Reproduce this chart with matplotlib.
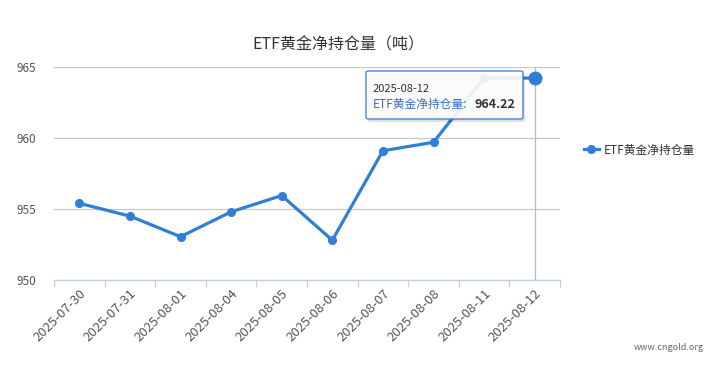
import matplotlib.pyplot as plt
from matplotlib.patches import FancyBboxPatch
from matplotlib.lines import Line2D

plt.rcParams['font.family'] = ['Noto Sans CJK SC', 'DejaVu Sans']

DATES = ["2025-07-30", "2025-07-31", "2025-08-01", "2025-08-04", "2025-08-05",
         "2025-08-06", "2025-08-07", "2025-08-08", "2025-08-11", "2025-08-12"]
HOLDINGS = [955.4, 954.5, 953.05, 954.8, 955.95, 952.8, 959.1, 959.7, 964.22, 964.22]
SERIES_NAME = "ETF黄金净持仓量"
TITLE = "ETF黄金净持仓量（吨）"
Y_TICKS = [950, 955, 960, 965]
HOVER_IDX = 9

W, H = 724, 367
BLUE = "#2f7ed8"

fig = plt.figure(figsize=(W / 100, H / 100), dpi=100)
ax = fig.add_axes([54 / W, (H - 280) / H, 506 / W, 213 / H])

x = list(range(len(DATES)))
ax.plot(x, HOLDINGS, color=BLUE, lw=2.3, marker="o", ms=5.5, zorder=3)
ax.plot([x[HOVER_IDX]], [HOLDINGS[HOVER_IDX]], marker="o", ms=9, color=BLUE, zorder=4)
ax.axvline(x[HOVER_IDX], color="#bbbbbb", lw=0.9, zorder=2)

ax.set_xlim(-0.5, len(DATES) - 0.5)
ax.set_ylim(950, 965)
ax.set_yticks(Y_TICKS)
ax.yaxis.grid(True, color="#c8c8c8", lw=0.9)
ax.set_axisbelow(True)
ax.tick_params(axis="y", length=0, labelsize=8.5, labelcolor="#555555", pad=13)

ax.set_xticks(x)
ax.set_xticklabels(DATES, rotation=45, ha="right", va="top", rotation_mode="anchor",
                   fontsize=9.5, color="#555555")
ax.set_xticks([i - 0.5 for i in range(len(DATES) + 1)], minor=True)
ax.tick_params(axis="x", which="major", length=0, pad=5)
ax.tick_params(axis="x", which="minor", length=5, color="#c0d0e0", width=0.9)

for s in ["top", "right", "left"]:
    ax.spines[s].set_visible(False)
ax.spines["bottom"].set_color("#c0d0e0")
ax.spines["bottom"].set_linewidth(1.0)

fig.text(338 / W, 1 - 45 / H, TITLE, ha="center", va="center", fontsize=11.5, color="#333333")

# tooltip
box = FancyBboxPatch((366 / W, 1 - 119 / H), 157 / W, 48 / H,
                     boxstyle="round,pad=0,rounding_size=0.004",
                     transform=fig.transFigure, facecolor="white", edgecolor=BLUE,
                     lw=1.0, alpha=0.9, zorder=10)
shadow = FancyBboxPatch((368 / W, 1 - 122 / H), 157 / W, 48 / H,
                        boxstyle="round,pad=0,rounding_size=0.004",
                        transform=fig.transFigure, facecolor="#000000", edgecolor="none",
                        alpha=0.12, zorder=9)
fig.patches.extend([shadow, box])
fig.text(373 / W, 1 - 89 / H, DATES[HOVER_IDX], ha="left", va="center", fontsize=8,
         color="#333333", zorder=11)
fig.text(373 / W, 1 - 104 / H, SERIES_NAME + ":", ha="left", va="center", fontsize=8.5,
         color="#3a6fc4", zorder=11)
fig.text(474 / W, 1 - 104 / H, f"{HOLDINGS[HOVER_IDX]:.2f}", ha="left", va="center",
         fontsize=9, fontweight="bold", color="#333333", zorder=11)

handle = Line2D([], [], color=BLUE, lw=2.3, marker="o", ms=5.5)
fig.legend([handle], [SERIES_NAME], loc="center left", frameon=False,
           bbox_to_anchor=(573 / W, 1 - 150 / H), fontsize=8.5, handlelength=1.3,
           handletextpad=0.4, labelcolor="#333333")

fig.text(704 / W, 1 - 348 / H, "www.cngold.org", ha="right", va="center", fontsize=6.5,
         color="#666666")

fig.savefig("out.png", dpi=100)
